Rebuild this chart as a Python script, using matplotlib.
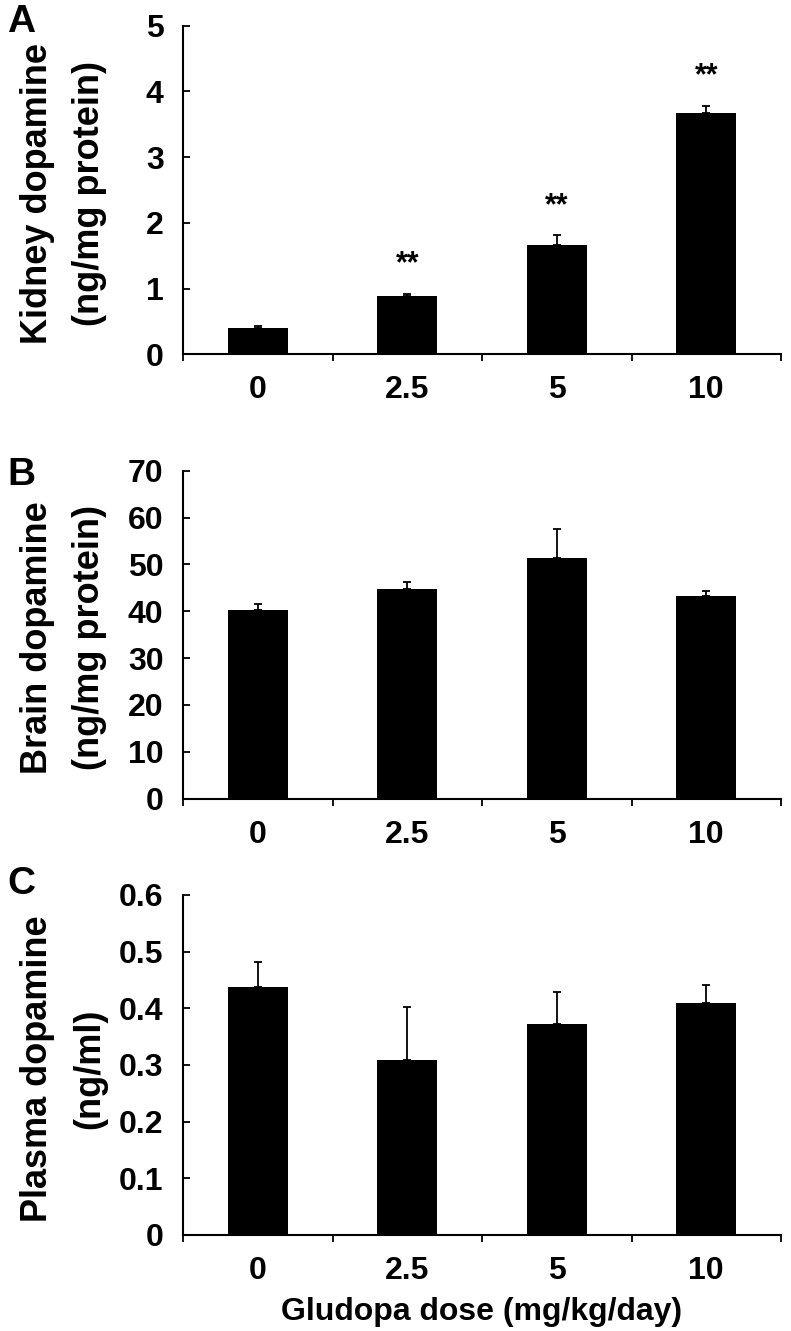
import matplotlib
matplotlib.use('Agg')
import matplotlib.pyplot as plt

plt.rcParams['font.family'] = ['Liberation Sans', 'DejaVu Sans']
plt.rcParams['font.weight'] = 'bold'

doses = ['0', '2.5', '5', '10']

kidney_mean = [0.40, 0.89, 1.67, 3.67]
kidney_sem = [0.03, 0.03, 0.14, 0.11]
kidney_sig = ['', '**', '**', '**']

brain_mean = [40.3, 44.7, 51.4, 43.2]
brain_sem = [1.2, 1.6, 6.2, 1.2]

plasma_mean = [0.438, 0.308, 0.372, 0.409]
plasma_sem = [0.044, 0.095, 0.057, 0.033]

W, H = 791, 1331
fig = plt.figure(figsize=(W / 100, H / 100), dpi=100)


def px_rect(top, bottom, left=183, right=781):
    return [left / W, 1 - bottom / H, (right - left) / W, (bottom - top) / H]


def panel(rect, mean, sem, ylim, yticks, yticklabels, ylabel, letter, letter_y):
    ax = fig.add_axes(rect)
    x = range(len(mean))
    ax.bar(x, mean, width=0.4, color='black', zorder=2)
    ax.errorbar(x, mean, yerr=[[0] * len(sem), sem], fmt='none', ecolor='black',
                elinewidth=1.3, capsize=3, capthick=1.3, zorder=1)
    ax.set_xlim(-0.5, 3.5)
    ax.set_ylim(*ylim)
    ax.set_yticks(yticks)
    ax.set_yticklabels(yticklabels)
    ax.set_xticks([-0.5, 0.5, 1.5, 2.5, 3.5])
    ax.set_xticklabels([])
    ax.set_xticks(list(x), minor=True)
    ax.set_xticklabels(doses, minor=True)
    ax.tick_params(axis='x', which='major', direction='out', length=5, width=1.3)
    ax.tick_params(axis='x', which='minor', length=0, pad=15, labelsize=23)
    ax.tick_params(axis='y', direction='in', length=5, width=1.3, pad=14, labelsize=23)
    for s in ['top', 'right']:
        ax.spines[s].set_visible(False)
    for s in ['left', 'bottom']:
        ax.spines[s].set_linewidth(1.5)
    ax.set_ylabel(ylabel, fontsize=26, fontweight='bold', linespacing=1.65)
    ax.yaxis.label.set_va('center')
    ax.yaxis.set_label_coords(-0.2, 0.49)
    fig.text(21 / W, 1 - letter_y / H, letter, fontsize=28, fontweight='bold',
             ha='center', va='center')
    return ax


axA = panel(px_rect(25.7, 354.3), kidney_mean, kidney_sem, (0, 5), range(6),
            [str(v) for v in range(6)], 'Kidney dopamine\n(ng/mg protein)', 'A', 22)
for i, (m, s, t) in enumerate(zip(kidney_mean, kidney_sem, kidney_sig)):
    if t:
        axA.text(i, m + s + 0.45, t, ha='center', va='center', fontsize=22,
                 fontweight='bold')

panel(px_rect(470.7, 798.7), brain_mean, brain_sem, (0, 70), range(0, 71, 10),
      [str(v) for v in range(0, 71, 10)], 'Brain dopamine\n(ng/mg protein)', 'B', 475)

axC = panel(px_rect(895, 1235), plasma_mean, plasma_sem, (0, 0.6),
            [0, 0.1, 0.2, 0.3, 0.4, 0.5, 0.6],
            ['0', '0.1', '0.2', '0.3', '0.4', '0.5', '0.6'],
            'Plasma dopamine\n(ng/ml)', 'C', 884)
axC.set_xlabel('Gludopa dose (mg/kg/day)', fontsize=23, fontweight='bold', labelpad=8)

fig.savefig('out.png', dpi=100)
